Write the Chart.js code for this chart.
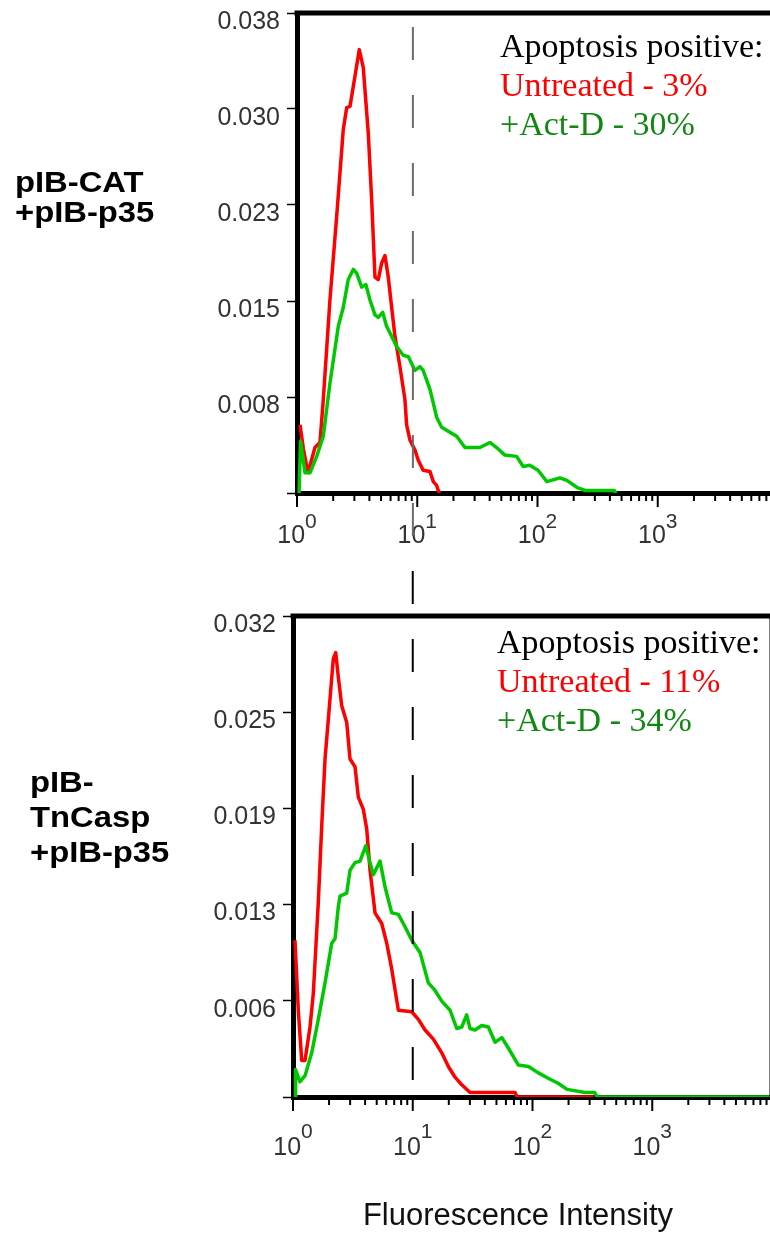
<!DOCTYPE html>
<html>
<head>
<meta charset="utf-8">
<script src="https://cdn.jsdelivr.net/npm/chart.js@4.4.1/dist/chart.umd.min.js"></script>
<style>
  html, body { margin: 0; padding: 0; background: #fff; }
  #page { position: relative; width: 770px; height: 1235px; overflow: hidden; }
  .panel { position: absolute; left: 0; width: 800px; }
  .panel canvas { display: block; }
  .rowlabel { position: absolute; font: bold 29px "Liberation Sans", Arial, sans-serif; color: #000;
              transform: scaleX(1.13); transform-origin: left top; white-space: nowrap; }
  .note { position: absolute; font: 34px "Liberation Serif", "Times New Roman", serif; line-height: 39px; white-space: nowrap; }
  .note .untreated { color: #ff0000; }
  .note .actd { color: #118811; }
  #xtitle { position: absolute; left: 318px; top: 1199px; width: 400px; text-align: center;
            font: 31px "Liberation Sans", Arial, sans-serif; line-height: 31px; color: #111; }
</style>
</head>
<body>
<div id="page">
  <div class="panel" style="top:0;height:555px"><canvas id="topChart" width="800" height="555"></canvas></div>
  <div class="panel" style="top:555px;height:680px"><canvas id="bottomChart" width="800" height="680"></canvas></div>

  <div class="rowlabel" style="left:15px;top:167px;line-height:30px">pIB-CAT<br>+pIB-p35</div>
  <div class="rowlabel" style="left:30px;top:765px;line-height:35px">pIB-<br>TnCasp<br>+pIB-p35</div>

  <div class="note" style="left:500px;top:26px">Apoptosis positive:<br><span class="untreated">Untreated - 3%</span><br><span class="actd">+Act-D - 30%</span></div>
  <div class="note" style="left:497px;top:622px">Apoptosis positive:<br><span class="untreated">Untreated - 11%</span><br><span class="actd">+Act-D - 34%</span></div>

  <div id="xtitle">Fluorescence Intensity</div>
</div>
<script>
// x axis: log decades 10^0 .. 10^4
const xTickExponents = [0, 1, 2, 3];

// top panel: pIB-CAT + pIB-p35
const topYTicks = [0, 0.0076, 0.0152, 0.0228, 0.0304, 0.038];
const topUntreatedX = [1.06, 1.13, 1.234, 1.411, 1.553, 1.654, 1.88, 2.138, 2.427, 2.589,
  2.759, 3.034, 3.296, 3.556, 3.915, 4.178, 4.449, 4.74, 5.058, 5.39,
  5.74, 6.125, 6.526, 7.18, 7.9, 8.16, 8.69, 9.57, 10.19, 11.2,
  12.76, 13.6, 14.5, 14.95, 15.4];
const topUntreatedY = [0.0054, 0.0035, 0.0016, 0.0036, 0.004, 0.0074, 0.0153, 0.0219, 0.0288, 0.0305,
  0.0306, 0.033, 0.0351, 0.0337, 0.0285, 0.0232, 0.0171, 0.0169, 0.0182, 0.0188,
  0.0171, 0.0147, 0.0124, 0.01, 0.0074, 0.0054, 0.0042, 0.0034, 0.0026, 0.0018,
  0.0017, 0.0009, 0.0006, 0.0002, 0];
const topActDX = [1.04, 1.07, 1.166, 1.282, 1.458, 1.654, 1.88, 2.206, 2.427, 2.668,
  2.94, 3.134, 3.45, 3.74, 4.04, 4.45, 4.74, 5.16, 5.56, 6.13,
  6.74, 7.64, 8.42, 9.57, 10.53, 11.2, 12.76, 14.5, 15.95, 18.7,
  21.3, 24.9, 33.2, 40.2, 45.7, 53.5, 67, 76, 86.3, 101,
  119.7, 153.6, 175.5, 216.6, 250, 435.6, 448.5];
const topActDY = [0, 0.0041, 0.0016, 0.0016, 0.0029, 0.0045, 0.0087, 0.0132, 0.0147, 0.0169,
  0.0177, 0.0174, 0.0163, 0.0165, 0.0153, 0.0141, 0.0139, 0.0143, 0.0132, 0.0124,
  0.0116, 0.0109, 0.0108, 0.0097, 0.01, 0.0097, 0.0082, 0.006, 0.0052, 0.0048,
  0.0045, 0.0036, 0.0036, 0.004, 0.0036, 0.003, 0.0029, 0.0021, 0.0022, 0.0018,
  0.0009, 0.0012, 0.001, 0.0004, 0.0002, 0.0002, 0];
const topGate = 9.2;

// bottom panel: pIB-TnCasp + pIB-p35
const bottomYTicks = [0, 0.00632, 0.01264, 0.01896, 0.02528, 0.0316];
const bottomUntreatedX = [1.039, 1.107, 1.182, 1.26, 1.387, 1.478, 1.627, 1.737, 1.851, 1.972,
  2.171, 2.274, 2.39, 2.552, 2.81, 2.994, 3.296, 3.512, 3.867, 4.128,
  4.398, 4.842, 5.508, 6.065, 6.677, 7.58, 9.81, 11.14, 12.67, 14.86,
  17.47, 19.83, 22.56, 25.67, 30.1, 71.5, 74.3, 321];
const bottomUntreatedY = [0.0103, 0.0057, 0.0024, 0.0024, 0.0046, 0.0068, 0.0128, 0.0178, 0.0222, 0.0248,
  0.0288, 0.0292, 0.0276, 0.0257, 0.0246, 0.0222, 0.0217, 0.0197, 0.0189, 0.0176,
  0.0149, 0.0121, 0.0114, 0.0101, 0.0084, 0.0057, 0.0056, 0.0051, 0.0044, 0.0038,
  0.0029, 0.002, 0.0013, 0.0008, 0.0003, 0.0003, 0, 0];
const bottomActDX = [1.04, 1.05, 1.144, 1.26, 1.433, 1.627, 1.851, 2.106, 2.244, 2.39,
  2.47, 2.81, 2.994, 3.296, 3.63, 4.05, 4.398, 4.69, 5.33, 5.87,
  6.677, 7.58, 8.6, 9.81, 11.5, 13.5, 15.35, 17.47, 20.5, 23.3,
  25.67, 28.2, 30.1, 33.1, 37.7, 42.8, 48.7, 55.5, 63, 76.2,
  92.5, 111, 137.6, 163.6, 194.5, 275, 330, 347, 10000];
const bottomActDY = [0, 0.0018, 0.001, 0.0014, 0.0029, 0.0051, 0.0075, 0.0101, 0.0104, 0.0125,
  0.0132, 0.0134, 0.0149, 0.0154, 0.0155, 0.0165, 0.0154, 0.0146, 0.0155, 0.0138,
  0.0121, 0.012, 0.0112, 0.0103, 0.0095, 0.0075, 0.007, 0.0063, 0.0057, 0.0045,
  0.0046, 0.0054, 0.0045, 0.0044, 0.0047, 0.0046, 0.0036, 0.0039, 0.0032, 0.0021,
  0.002, 0.0016, 0.0012, 0.0009, 0.0005, 0.0003, 0.0003, 0, 0];
const bottomGate = 10;

const SANS = '"Liberation Sans", Arial, sans-serif';
const RED = '#ff0000';
const GREEN = '#00c800';

function toPoints(xs, ys) {
  return xs.map((x, i) => ({ x: x, y: ys[i] }));
}

// frame top/right, log tick marks, 10^n labels and the gate line
const frameAndAxis = {
  id: 'frameAndAxis',
  afterDatasetsDraw(chart, args, opts) {
    const ctx = chart.ctx;
    const a = chart.chartArea;
    const x = chart.scales.x;
    ctx.save();

    ctx.strokeStyle = '#000';
    ctx.lineWidth = 5;
    ctx.beginPath();
    ctx.moveTo(a.left - 2.5, a.top);
    ctx.lineTo(a.right, a.top);
    ctx.lineTo(a.right, a.bottom);
    ctx.stroke();

    ctx.lineWidth = 2;
    for (let k = 0; k < 4; k++) {
      for (let m = 1; m <= 9; m++) {
        const px = x.getPixelForValue(m * Math.pow(10, k));
        const len = m === 1 ? 14 : 8;
        ctx.beginPath();
        ctx.moveTo(px, a.bottom);
        ctx.lineTo(px, a.bottom + len);
        ctx.stroke();
      }
    }

    ctx.fillStyle = '#333';
    ctx.textAlign = 'left';
    ctx.textBaseline = 'alphabetic';
    xTickExponents.forEach(k => {
      const px = x.getPixelForValue(Math.pow(10, k));
      ctx.font = '25px ' + SANS;
      const w1 = ctx.measureText('10').width;
      ctx.font = '21px ' + SANS;
      const w2 = ctx.measureText(String(k)).width;
      const x0 = px - (w1 + w2) / 2;
      ctx.font = '25px ' + SANS;
      ctx.fillText('10', x0, opts.labelY);
      ctx.font = '21px ' + SANS;
      ctx.fillText(String(k), x0 + w1, opts.labelY - opts.supRise);
    });

    const gx = x.getPixelForValue(opts.gate);
    ctx.strokeStyle = opts.gateColor;
    ctx.lineWidth = 2;
    ctx.setLineDash([33, 35]);
    ctx.lineDashOffset = opts.dashOffset;
    ctx.beginPath();
    ctx.moveTo(gx, opts.dashTop);
    ctx.lineTo(gx, opts.dashBottom != null ? opts.dashBottom : a.bottom);
    ctx.stroke();

    ctx.restore();
  }
};

function makeHistogram(canvasId, cfg) {
  return new Chart(document.getElementById(canvasId), {
    type: 'line',
    data: {
      datasets: [
        {
          label: '+Act-D',
          data: toPoints(cfg.actX, cfg.actY),
          borderColor: GREEN,
          borderWidth: 3.5,
          pointRadius: 0,
          borderJoinStyle: 'round',
          order: 0
        },
        {
          label: 'Untreated',
          data: toPoints(cfg.untX, cfg.untY),
          borderColor: RED,
          borderWidth: 3.5,
          pointRadius: 0,
          borderJoinStyle: 'round',
          order: 1
        }
      ]
    },
    options: {
      responsive: false,
      animation: false,
      layout: { padding: { top: cfg.padTop, right: cfg.padRight, left: 0, bottom: 0 } },
      plugins: {
        legend: { display: false },
        tooltip: { enabled: false },
        frameAndAxis: cfg.decor
      },
      scales: {
        x: {
          type: 'logarithmic',
          min: 1,
          max: 10000,
          afterFit: s => { s.height = cfg.xHeight; s.paddingLeft = 0; s.paddingRight = 0; },
          grid: { display: false },
          border: { display: true, color: '#000', width: 5 },
          ticks: { display: false }
        },
        y: {
          type: 'linear',
          min: 0,
          max: cfg.yTicks[cfg.yTicks.length - 1],
          afterBuildTicks: s => { s.ticks = cfg.yTicks.map(v => ({ value: v })); },
          afterFit: s => { s.width = cfg.left; s.paddingTop = 0; s.paddingBottom = 0; },
          grid: { display: true, drawOnChartArea: false, drawTicks: true, tickLength: 10, tickColor: '#000', tickWidth: 1.5 },
          border: { display: true, color: '#000', width: 5 },
          ticks: {
            font: { family: SANS, size: 25 },
            color: '#333',
            padding: 7,
            labelOffset: 9,
            autoSkip: false,
            callback: v => v === 0 ? '' : v.toFixed(3)
          }
        }
      }
    },
    plugins: [frameAndAxis]
  });
}

makeHistogram('topChart', {
  untX: topUntreatedX, untY: topUntreatedY,
  actX: topActDX, actY: topActDY,
  yTicks: topYTicks,
  left: 297, padTop: 13, padRight: 22, xHeight: 62,
  decor: { gate: topGate, gateColor: '#6a6a6a', dashTop: 27, dashBottom: 555, dashOffset: 0, labelY: 543, supRise: 15 }
});

makeHistogram('bottomChart', {
  untX: bottomUntreatedX, untY: bottomUntreatedY,
  actX: bottomActDX, actY: bottomActDY,
  yTicks: bottomYTicks,
  left: 293, padTop: 61, padRight: 28, xHeight: 138,
  decor: { gate: bottomGate, gateColor: '#000', dashTop: 0, dashBottom: null, dashOffset: 52, labelY: 600, supRise: 17 }
});
</script>
</body>
</html>
